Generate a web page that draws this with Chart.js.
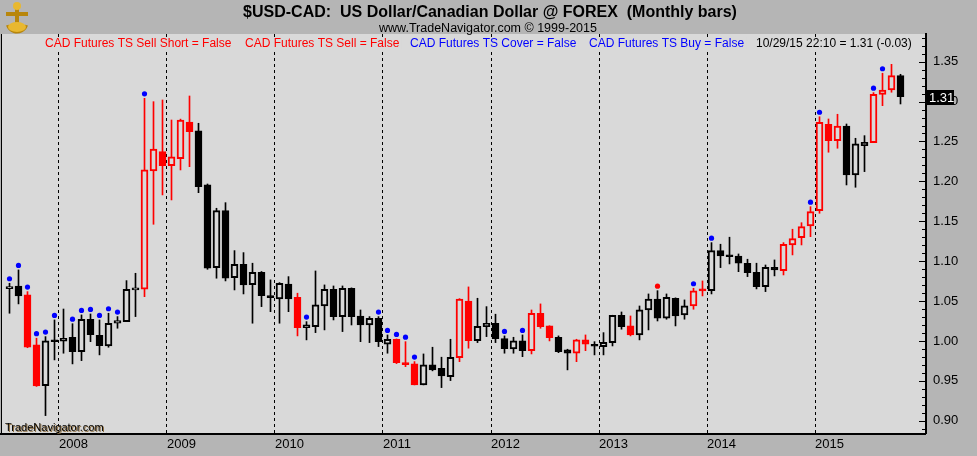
<!DOCTYPE html>
<html lang="en">
<head>
  <meta charset="UTF-8">
  <title>$USD-CAD Monthly bars</title>
  <script src="https://cdn.jsdelivr.net/npm/chart.js"></script>
  <style>
    html, body { margin: 0; padding: 0; background: #b5b5b5; }
    #wrap { width: 977px; height: 456px; position: relative; }
  </style>
</head>
<body>
  <div id="wrap"><canvas id="chart"></canvas></div>

  <script>
    // Monthly bars, Jul 2007 .. Oct 2015
    const months = [
      'Jul 2007', 'Aug 2007', 'Sep 2007', 'Oct 2007', 'Nov 2007', 'Dec 2007',
      'Jan 2008', 'Feb 2008', 'Mar 2008', 'Apr 2008', 'May 2008', 'Jun 2008', 'Jul 2008', 'Aug 2008', 'Sep 2008', 'Oct 2008', 'Nov 2008', 'Dec 2008',
      'Jan 2009', 'Feb 2009', 'Mar 2009', 'Apr 2009', 'May 2009', 'Jun 2009', 'Jul 2009', 'Aug 2009', 'Sep 2009', 'Oct 2009', 'Nov 2009', 'Dec 2009',
      'Jan 2010', 'Feb 2010', 'Mar 2010', 'Apr 2010', 'May 2010', 'Jun 2010', 'Jul 2010', 'Aug 2010', 'Sep 2010', 'Oct 2010', 'Nov 2010', 'Dec 2010',
      'Jan 2011', 'Feb 2011', 'Mar 2011', 'Apr 2011', 'May 2011', 'Jun 2011', 'Jul 2011', 'Aug 2011', 'Sep 2011', 'Oct 2011', 'Nov 2011', 'Dec 2011',
      'Jan 2012', 'Feb 2012', 'Mar 2012', 'Apr 2012', 'May 2012', 'Jun 2012', 'Jul 2012', 'Aug 2012', 'Sep 2012', 'Oct 2012', 'Nov 2012', 'Dec 2012',
      'Jan 2013', 'Feb 2013', 'Mar 2013', 'Apr 2013', 'May 2013', 'Jun 2013', 'Jul 2013', 'Aug 2013', 'Sep 2013', 'Oct 2013', 'Nov 2013', 'Dec 2013',
      'Jan 2014', 'Feb 2014', 'Mar 2014', 'Apr 2014', 'May 2014', 'Jun 2014', 'Jul 2014', 'Aug 2014', 'Sep 2014', 'Oct 2014', 'Nov 2014', 'Dec 2014',
      'Jan 2015', 'Feb 2015', 'Mar 2015', 'Apr 2015', 'May 2015', 'Jun 2015', 'Jul 2015', 'Aug 2015', 'Sep 2015', 'Oct 2015'
    ];

    const opens = [
      1.0655, 1.0689, 1.0577, 0.9950, 0.9440, 1.0004,
      0.9996, 1.0046, 0.9866, 1.0272, 1.0071, 0.9937, 1.0222, 1.0242, 1.0640, 1.0648, 1.2130, 1.2372,
      1.2197, 1.2284, 1.2744, 1.2632, 1.1955, 1.0919, 1.1633, 1.0793, 1.0961, 1.0706, 1.0861, 1.0568,
      1.0526, 1.0714, 1.0548, 1.0167, 1.0179, 1.0439, 1.0648, 1.0305, 1.0660, 1.0313, 1.0201, 1.0284,
      0.9959, 1.0021, 0.9722, 0.9712, 0.9449, 0.9700, 0.9658, 0.9553, 0.9791, 1.0501, 1.0004, 1.0179,
      1.0222, 1.0029, 0.9900, 1.0000, 0.9878, 1.0347, 1.0188, 1.0046, 0.9887, 0.9846, 1.0013, 0.9950,
      0.9929, 0.9979, 1.0322, 1.0188, 1.0075, 1.0389, 1.0523, 1.0285, 1.0535, 1.0326, 1.0439, 1.0630,
      1.0630, 1.1132, 1.1070, 1.1065, 1.0974, 1.0861, 1.0680, 1.0924, 1.0881, 1.1203, 1.1295, 1.1441,
      1.1633, 1.2716, 1.2510, 1.2694, 1.2080, 1.2447, 1.2485, 1.3091, 1.3145, 1.3325
    ];
    const highs = [
      1.0723, 1.0890, 1.0618, 1.0034, 1.0054, 1.0263,
      1.0400, 1.0216, 1.0326, 1.0338, 1.0263, 1.0347, 1.0305, 1.0756, 1.0848, 1.3041, 1.2999, 1.3020,
      1.2769, 1.2780, 1.3070, 1.2728, 1.1967, 1.1663, 1.1733, 1.1132, 1.1107, 1.0974, 1.0870, 1.0765,
      1.0731, 1.0806, 1.0598, 1.0242, 1.0877, 1.0702, 1.0689, 1.0689, 1.0665, 1.0388, 1.0305, 1.0305,
      1.0075, 1.0025, 0.9991, 0.9741, 0.9837, 0.9921, 0.9796, 1.0021, 1.0530, 1.0677, 1.0535, 1.0430,
      1.0335, 1.0063, 1.0046, 1.0075, 1.0388, 1.0464, 1.0190, 1.0063, 0.9896, 1.0021, 1.0075, 0.9991,
      1.0104, 1.0322, 1.0363, 1.0313, 1.0438, 1.0589, 1.0630, 1.0589, 1.0540, 1.0514, 1.0660, 1.0752,
      1.1232, 1.1212, 1.1300, 1.1090, 1.1024, 1.0974, 1.0952, 1.1015, 1.1232, 1.1400, 1.1482, 1.1683,
      1.2810, 1.2782, 1.2841, 1.2719, 1.2540, 1.2573, 1.3112, 1.3355, 1.3467, 1.3342
    ];
    const lows = [
      1.0347, 1.0464, 0.9915, 0.9430, 0.9064, 0.9762,
      0.9846, 0.9712, 0.9753, 0.9991, 0.9825, 0.9921, 1.0159, 1.0242, 1.0305, 1.0555, 1.1462, 1.1830,
      1.1767, 1.2143, 1.2184, 1.1858, 1.0898, 1.0786, 1.0752, 1.0639, 1.0589, 1.0222, 1.0430, 1.0367,
      1.0222, 1.0367, 1.0063, 1.0013, 1.0104, 1.0138, 1.0263, 1.0117, 1.0200, 0.9991, 0.9979, 0.9929,
      0.9846, 0.9716, 0.9678, 0.9449, 0.9449, 0.9625, 0.9415, 0.9503, 0.9740, 0.9909, 0.9979, 1.0054,
      0.9979, 0.9846, 0.9846, 0.9803, 0.9837, 1.0159, 1.0000, 0.9853, 0.9637, 0.9740, 0.9878, 0.9825,
      0.9825, 0.9937, 1.0147, 1.0063, 1.0013, 1.0138, 1.0250, 1.0272, 1.0188, 1.0272, 1.0397, 1.0564,
      1.0589, 1.0919, 1.0965, 1.0868, 1.0806, 1.0652, 1.0618, 1.0815, 1.0827, 1.1078, 1.1203, 1.1307,
      1.1600, 1.2365, 1.2415, 1.1955, 1.1926, 1.2122, 1.2485, 1.2949, 1.3117, 1.2970
    ];
    const closes = [
      1.0680, 1.0564, 0.9921, 0.9436, 1.0000, 0.9990,
      1.0034, 0.9866, 1.0272, 1.0079, 0.9941, 1.0222, 1.0254, 1.0648, 1.0645, 1.2143, 1.2406, 1.2197,
      1.2306, 1.2769, 1.2623, 1.1934, 1.0911, 1.1633, 1.0786, 1.0961, 1.0702, 1.0861, 1.0568, 1.0543,
      1.0723, 1.0526, 1.0167, 1.0201, 1.0451, 1.0648, 1.0305, 1.0660, 1.0305, 1.0201, 1.0284, 0.9991,
      1.0021, 0.9728, 0.9703, 0.9449, 0.9700, 0.9637, 0.9561, 0.9796, 1.0523, 1.0004, 1.0184, 1.0222,
      1.0029, 0.9904, 1.0000, 0.9878, 1.0347, 1.0179, 1.0041, 0.9866, 0.9846, 1.0013, 0.9959, 0.9933,
      0.9984, 1.0322, 1.0179, 1.0075, 1.0389, 1.0523, 1.0285, 1.0548, 1.0313, 1.0439, 1.0627, 1.0628,
      1.1132, 1.1065, 1.1055, 1.0974, 1.0856, 1.0680, 1.0924, 1.0890, 1.1212, 1.1282, 1.1432, 1.1620,
      1.2740, 1.2510, 1.2694, 1.2080, 1.2469, 1.2490, 1.3091, 1.3145, 1.3325, 1.3061
    ];

    // bars painted red by the system, and months with a signal dot
    const redBars = [2, 3, 15, 16, 17, 18, 19, 20, 32, 43, 44, 45, 50, 51, 58, 59, 60, 63, 64, 69, 76, 77,
      86, 87, 88, 89, 90, 91, 92, 96, 97, 98];
    const blueDots = [0, 1, 2, 3, 4, 5, 7, 8, 9, 10, 11, 12, 15, 33, 41, 42, 43, 44, 45, 55, 57, 76, 78, 89, 90, 96, 97];
    const redDots = [72];

    const yearStarts = [6, 18, 30, 42, 54, 66, 78, 90];
    const yearLabels = ['2008', '2009', '2010', '2011', '2012', '2013', '2014', '2015'];
    const priceTicks = [0.90, 0.95, 1.00, 1.05, 1.10, 1.15, 1.20, 1.25, 1.30, 1.35];

    const PLOT_BG = '#d9d9d9';
    const RED = '#ff0000';
    const BLUE = '#0000ff';
    const FONT = "'Liberation Sans', Arial, sans-serif";

    const isRed = i => redBars.includes(i);
    const isUp = i => closes[i] >= opens[i];

    // header, watermark, inner ticks, dots and last price box
    const decorations = {
      id: 'decorations',
      beforeDraw(chart) {
        const { ctx, chartArea: a } = chart;
        ctx.save();
        ctx.fillStyle = '#b5b5b5';
        ctx.fillRect(0, 0, chart.width, chart.height);
        ctx.fillStyle = PLOT_BG;
        ctx.fillRect(a.left, a.top, a.right - a.left, a.bottom - a.top);

        // little gold anchor logo
        ctx.strokeStyle = '#b8860b';
        ctx.fillStyle = '#e8b830';
        ctx.lineWidth = 4;
        ctx.beginPath();
        ctx.moveTo(17, 6); ctx.lineTo(17, 30);
        ctx.moveTo(6, 14); ctx.lineTo(28, 14);
        ctx.stroke();
        ctx.lineWidth = 3;
        ctx.beginPath();
        ctx.arc(17, 22, 10, 0.1 * Math.PI, 0.9 * Math.PI);
        ctx.stroke();
        ctx.beginPath();
        ctx.arc(17, 6, 4, 0, 2 * Math.PI);
        ctx.fill();
        ctx.beginPath();
        ctx.ellipse(17, 27, 9, 5, 0, 0, 2 * Math.PI);
        ctx.fill();
        ctx.restore();
      },
      afterDraw(chart) {
        const { ctx, chartArea: a } = chart;
        const xs = chart.scales.x, ys = chart.scales.y;
        ctx.save();

        // borders
        ctx.fillStyle = '#000';
        ctx.fillRect(a.left - 1, a.top, 1, a.bottom - a.top);
        ctx.fillRect(0, a.bottom, a.right, 2);

        // inner price ticks every 0.01
        ctx.strokeStyle = '#000';
        ctx.lineWidth = 1;
        ctx.beginPath();
        for (let k = 89; k <= 138; k++) {
          const y = Math.round(ys.getPixelForValue(k / 100)) + 0.5;
          const len = k % 5 === 0 ? 7 : 4;
          ctx.moveTo(a.right - len, y);
          ctx.lineTo(a.right, y);
        }
        ctx.stroke();

        // signal dots
        const dot = (i, color) => {
          ctx.fillStyle = color;
          ctx.beginPath();
          ctx.arc(xs.getPixelForValue(i), ys.getPixelForValue(highs[i]) - 4.5, 2.6, 0, 2 * Math.PI);
          ctx.fill();
        };
        blueDots.forEach(i => dot(i, BLUE));
        redDots.forEach(i => dot(i, RED));

        // titles
        ctx.fillStyle = '#000';
        ctx.textAlign = 'center';
        ctx.textBaseline = 'alphabetic';
        ctx.font = 'bold 16px ' + FONT;
        ctx.fillText('$USD-CAD:  US Dollar/Canadian Dollar @ FOREX  (Monthly bars)', 490, 17);
        ctx.font = '12.5px ' + FONT;
        ctx.fillText('www.TradeNavigator.com \u00a9 1999-2015', 488, 32);

        // system status line
        ctx.textAlign = 'left';
        ctx.font = '12px ' + FONT;
        const parts = [
          ['CAD Futures TS Sell Short = False', RED, 45],
          ['CAD Futures TS Sell = False', RED, 245],
          ['CAD Futures TS Cover = False', BLUE, 410],
          ['CAD Futures TS Buy = False', BLUE, 589],
          ['10/29/15 22:10 = 1.31 (-0.03)', '#000', 756]
        ];
        parts.forEach(([t, c, x]) => {
          ctx.fillStyle = PLOT_BG;
          ctx.fillRect(x - 2, 37, ctx.measureText(t).width + 4, 12);
          ctx.fillStyle = c;
          ctx.fillText(t, x, 46.5);
        });

        // watermark
        ctx.font = '11px ' + FONT;
        ctx.fillStyle = '#8a6a3a';
        ctx.fillText('TradeNavigator.com', 6, 432);
        ctx.fillStyle = '#000';
        ctx.fillText('TradeNavigator.com', 5, 431);

        // last price box
        const last = closes[closes.length - 1];
        const yl = Math.round(ys.getPixelForValue(last));
        ctx.fillStyle = '#000';
        ctx.fillRect(a.right + 1, yl - 7, 27, 15);
        ctx.fillStyle = '#fff';
        ctx.font = '13px ' + FONT;
        ctx.textBaseline = 'middle';
        ctx.fillText(last.toFixed(2), a.right + 3, yl + 1);
        ctx.restore();
      }
    };

    new Chart(document.getElementById('chart'), {
      type: 'bar',
      data: {
        datasets: [
          {
            label: 'body',
            data: months.map((m, i) => ({ x: i, y: [opens[i], closes[i]] })),
            backgroundColor: c => isUp(c.dataIndex) ? PLOT_BG : (isRed(c.dataIndex) ? RED : '#000'),
            borderColor: c => isRed(c.dataIndex) ? RED : '#000',
            borderWidth: 2,
            borderSkipped: false,
            barThickness: 7,
            minBarLength: 2,
            grouped: false,
            order: 0
          },
          {
            label: 'range',
            data: months.map((m, i) => ({ x: i, y: [lows[i], highs[i]] })),
            backgroundColor: c => isRed(c.dataIndex) ? RED : '#000',
            borderWidth: 0,
            barThickness: 1,
            grouped: false,
            order: 1
          }
        ]
      },
      options: {
        responsive: true,
        maintainAspectRatio: false,
        animation: false,
        layout: { padding: { left: 2, top: 34, right: 0, bottom: 0 } },
        plugins: { legend: { display: false }, tooltip: { enabled: false } },
        scales: {
          x: {
            type: 'linear',
            offset: false,
            bounds: 'data',
            min: -0.8333,
            max: 101.8333,
            afterBuildTicks: s => { s.ticks = yearStarts.map(i => ({ value: i - 0.5 })); },
            afterFit: s => { s.height = 23; },
            grid: { display: true, offset: false, color: '#000', lineWidth: 1, drawTicks: false },
            border: { display: false, dash: [3, 3] },
            ticks: {
              align: 'start',
              padding: 4,
              color: '#000',
              autoSkip: false,
              maxRotation: 0,
              font: { family: FONT, size: 13 },
              callback: (v, idx) => yearLabels[idx]
            }
          },
          y: {
            position: 'right',
            min: 0.8846,
            max: 1.3847,
            afterBuildTicks: s => { s.ticks = priceTicks.map(v => ({ value: v })); },
            afterFit: s => { s.width = 51; },
            grid: { display: false, drawTicks: false },
            border: { display: true, color: '#000', width: 2 },
            ticks: {
              padding: 7,
              color: '#000',
              font: { family: FONT, size: 13 },
              callback: v => v.toFixed(2)
            }
          }
        }
      },
      plugins: [decorations]
    });
  </script>
</body>
</html>
